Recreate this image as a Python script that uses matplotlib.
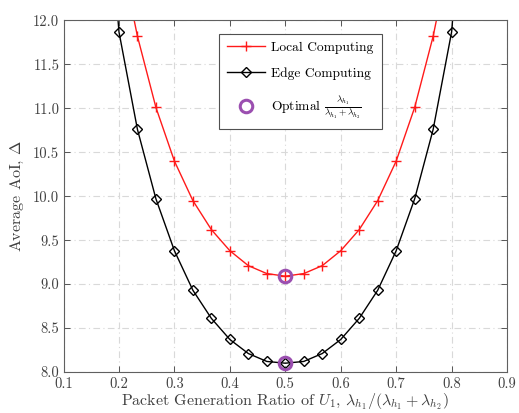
import numpy as np
import matplotlib
matplotlib.use("Agg")
import matplotlib.pyplot as plt

plt.rcParams["font.family"] = ["cmr10"]
plt.rcParams["mathtext.fontset"] = "cm"
plt.rcParams["axes.formatter.use_mathtext"] = True

# packet generation ratio of U1 (step 1/30)
ratio = [1/6, 1/5, 7/30, 4/15, 3/10, 1/3, 11/30, 2/5, 13/30, 7/15, 1/2,
         8/15, 17/30, 3/5, 19/30, 2/3, 7/10, 11/15, 23/30, 4/5, 5/6]

# average AoI of each scheme
local_aoi = [14.9, 12.85, 11.82, 11.01, 10.40, 9.95, 9.62, 9.38, 9.21, 9.12, 9.09,
             9.12, 9.21, 9.38, 9.62, 9.95, 10.40, 11.01, 11.82, 12.85, 14.9]
edge_aoi = [14.5, 11.87, 10.76, 9.97, 9.38, 8.93, 8.61, 8.37, 8.21, 8.12, 8.10,
            8.12, 8.21, 8.37, 8.61, 8.93, 9.38, 9.97, 10.76, 11.87, 14.5]

opt_ratio = [0.5, 0.5]
opt_aoi = [9.09, 8.10]

xticks = [0.1, 0.2, 0.3, 0.4, 0.5, 0.6, 0.7, 0.8, 0.9]
yticks = [8.0, 8.5, 9.0, 9.5, 10.0, 10.5, 11.0, 11.5, 12.0]

fig = plt.figure(figsize=(5.19, 4.13), dpi=100)
ax = fig.add_axes([0.1224, 0.0993, 0.8546, 0.8511])

ax.plot(ratio, local_aoi, color="#ff1a1a", lw=1.0, marker="+", ms=7, mew=1.0,
        label="Local Computing")
ax.plot(ratio, edge_aoi, color="black", lw=1.0, marker="D", ms=5.5, mew=1.0,
        mfc="none", label="Edge Computing")
ax.plot(opt_ratio, opt_aoi, ls="none", marker="o", ms=9, mew=2.2, mfc="none",
        mec="#9b4fb0",
        label=r"Optimal $\frac{\lambda_{h_1}}{\lambda_{h_1}+\lambda_{h_2}}$")

ax.set_xlim(0.1, 0.9)
ax.set_ylim(8.0, 12.0)
ax.set_xticks(xticks)
ax.set_yticks(yticks)
ax.set_xticklabels([f"{v:.1f}" for v in xticks])
ax.set_yticklabels([f"{v:.1f}" for v in yticks])

ax.grid(True, color="#d9d9d9", ls=(0, (6, 3, 1, 3)), lw=0.8)
ax.tick_params(direction="in", top=True, right=True, length=4, width=0.6,
               labelsize=10.5, colors="#404040")
ax.tick_params(axis="y", pad=3)
ax.tick_params(axis="x", pad=4)
for s in ax.spines.values():
    s.set_color("#606060")
    s.set_linewidth(0.8)

ax.set_xlabel(r"Packet Generation Ratio of $U_1$, $\lambda_{h_1}/(\lambda_{h_1}+\lambda_{h_2})$",
              fontsize=11.5, color="#404040", labelpad=0)
ax.set_ylabel(r"Average AoI, $\Delta$", fontsize=11.5, color="#404040", labelpad=5)

leg = ax.legend(loc="upper left", bbox_to_anchor=(0.335, 0.982), fancybox=False,
                edgecolor="#505050", framealpha=1, fontsize=9.7, labelspacing=1.0,
                handlelength=2.8, handletextpad=0.5, borderpad=0.6)
leg.get_frame().set_linewidth(0.8)

fig.savefig("out.png", dpi=100)
